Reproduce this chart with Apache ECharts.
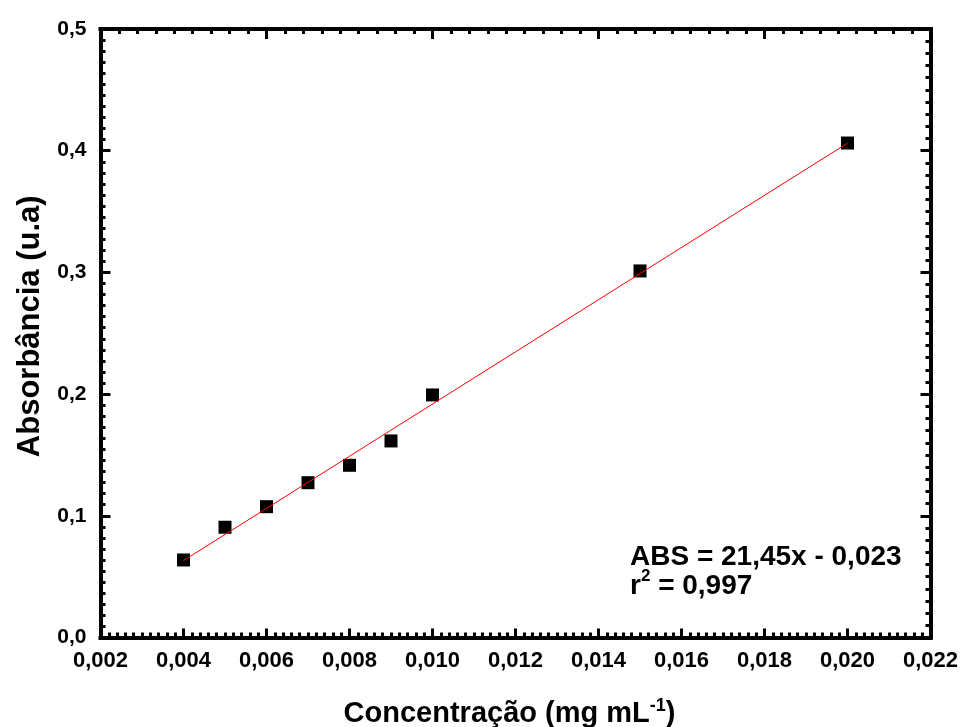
<!DOCTYPE html>
<html>
<head>
<meta charset="utf-8">
<script src="https://cdn.jsdelivr.net/npm/echarts@6/dist/echarts.min.js"></script>
<style>
html,body{margin:0;padding:0;background:#fff;}
#chart{width:962px;height:727px;}
</style>
</head>
<body>
<div id="chart"></div>
<script>
// Data
var concentration = [0.004, 0.005, 0.006, 0.007, 0.008, 0.009, 0.010, 0.015, 0.020];
var absorbance    = [0.0637, 0.0906, 0.1075, 0.1272, 0.1415, 0.1615, 0.1993, 0.3012, 0.4063];
var fitX = [0.004, 0.020];
var fitY = [0.0632, 0.4062];
var xTitle = 'Concentração (mg mL{sup|-1})';
var yTitle = 'Absorbância (u.a)';
var equationText = 'ABS = 21,45x - 0,023';
var r2Value = '0,997';

var FONT = '"Liberation Sans", Arial, Helvetica, sans-serif';

var chart = echarts.init(document.getElementById('chart'));

function pairs(xs, ys) {
  var out = [];
  for (var i = 0; i < xs.length; i++) out.push([xs[i], ys[i]]);
  return out;
}

var baseAxis = {
  axisLine: { show: true, onZero: false, lineStyle: { color: '#000', width: 4, cap: 'square' } },
  splitLine: { show: false }
};

var option = {
  backgroundColor: '#fff',
  animation: false,
  grid: { left: 100.5, right: 31.5, top: 29, bottom: 89.5, containLabel: false, outerBoundsMode: 'none' },
  xAxis: [
    Object.assign({}, baseAxis, {
      type: 'value', position: 'bottom', min: 0.002, max: 0.022, interval: 0.002,
      name: xTitle, nameLocation: 'middle', nameGap: 60,
      nameTextStyle: {
        fontFamily: FONT, fontWeight: 'bold', fontSize: 29, color: '#000', padding: [0, 12, 0, 0],
        rich: { sup: { fontFamily: FONT, fontWeight: 'bold', fontSize: 18, color: '#000', verticalAlign: 'top', padding: [0, 0, 14, 0] } }
      },
      axisTick: { show: true, inside: true, length: 9, lineStyle: { color: '#000', width: 3 } },
      minorTick: { show: true, splitNumber: 10, length: 5, lineStyle: { color: '#000', width: 3 } },
      axisLabel: {
        show: true, margin: 12, color: '#000', fontFamily: FONT, fontWeight: 'bold', fontSize: 22,
        formatter: function (v) { return v.toFixed(3).replace('.', ','); }
      }
    }),
    Object.assign({}, baseAxis, {
      type: 'value', position: 'top', min: 0.002, max: 0.022, interval: 0.004,
      axisTick: { show: true, inside: true, length: 10, lineStyle: { color: '#000', width: 3 } },
      minorTick: { show: true, splitNumber: 9, length: 5, lineStyle: { color: '#000', width: 3 } },
      axisLabel: { show: false }
    })
  ],
  yAxis: [
    Object.assign({}, baseAxis, {
      type: 'value', position: 'left', min: 0, max: 0.5, interval: 0.1,
      name: yTitle, nameLocation: 'middle', nameGap: 54, nameRotate: 90,
      nameTextStyle: { fontFamily: FONT, fontWeight: 'bold', fontSize: 31, color: '#000', padding: [0, 0, 0, 14] },
      axisTick: { show: true, inside: true, length: 10, lineStyle: { color: '#000', width: 3 } },
      minorTick: { show: true, splitNumber: 11, length: 5, lineStyle: { color: '#000', width: 3 } },
      axisLabel: {
        show: true, margin: 14, color: '#000', fontFamily: FONT, fontWeight: 'bold', fontSize: 21,
        formatter: function (v) { return v.toFixed(1).replace('.', ','); }
      }
    }),
    Object.assign({}, baseAxis, {
      type: 'value', position: 'right', min: 0, max: 0.5, interval: 0.1,
      axisTick: { show: true, inside: true, length: 10, lineStyle: { color: '#000', width: 3 } },
      minorTick: { show: true, splitNumber: 10, length: 5, lineStyle: { color: '#000', width: 3 } },
      axisLabel: { show: false }
    })
  ],
  series: [
    {
      type: 'scatter', xAxisIndex: 0, yAxisIndex: 0,
      data: pairs(concentration, absorbance),
      symbol: 'rect', symbolSize: 13,
      itemStyle: { color: '#000', opacity: 1 }, z: 2
    },
    {
      type: 'line', xAxisIndex: 0, yAxisIndex: 0,
      data: pairs(fitX, fitY),
      symbol: 'none', lineStyle: { color: '#ff0000', width: 1, opacity: 1 }, z: 3
    }
  ],
  graphic: [
    {
      type: 'text', left: 630, top: 543, z: 10,
      style: { text: equationText, fill: '#000', font: 'bold 28px ' + FONT }
    },
    {
      type: 'text', left: 630, top: 566, z: 10,
      style: {
        text: '{b|r}{s|2}{b| = ' + r2Value + '}',
        rich: {
          b: { fontFamily: FONT, fontWeight: 'bold', fontSize: 28, fill: '#000', lineHeight: 34, verticalAlign: 'bottom' },
          s: { fontFamily: FONT, fontWeight: 'bold', fontSize: 17, fill: '#000', lineHeight: 34, verticalAlign: 'top', padding: [2, 0, 0, 0] }
        }
      }
    }
  ]
};
chart.setOption(option);
</script>
</body>
</html>
